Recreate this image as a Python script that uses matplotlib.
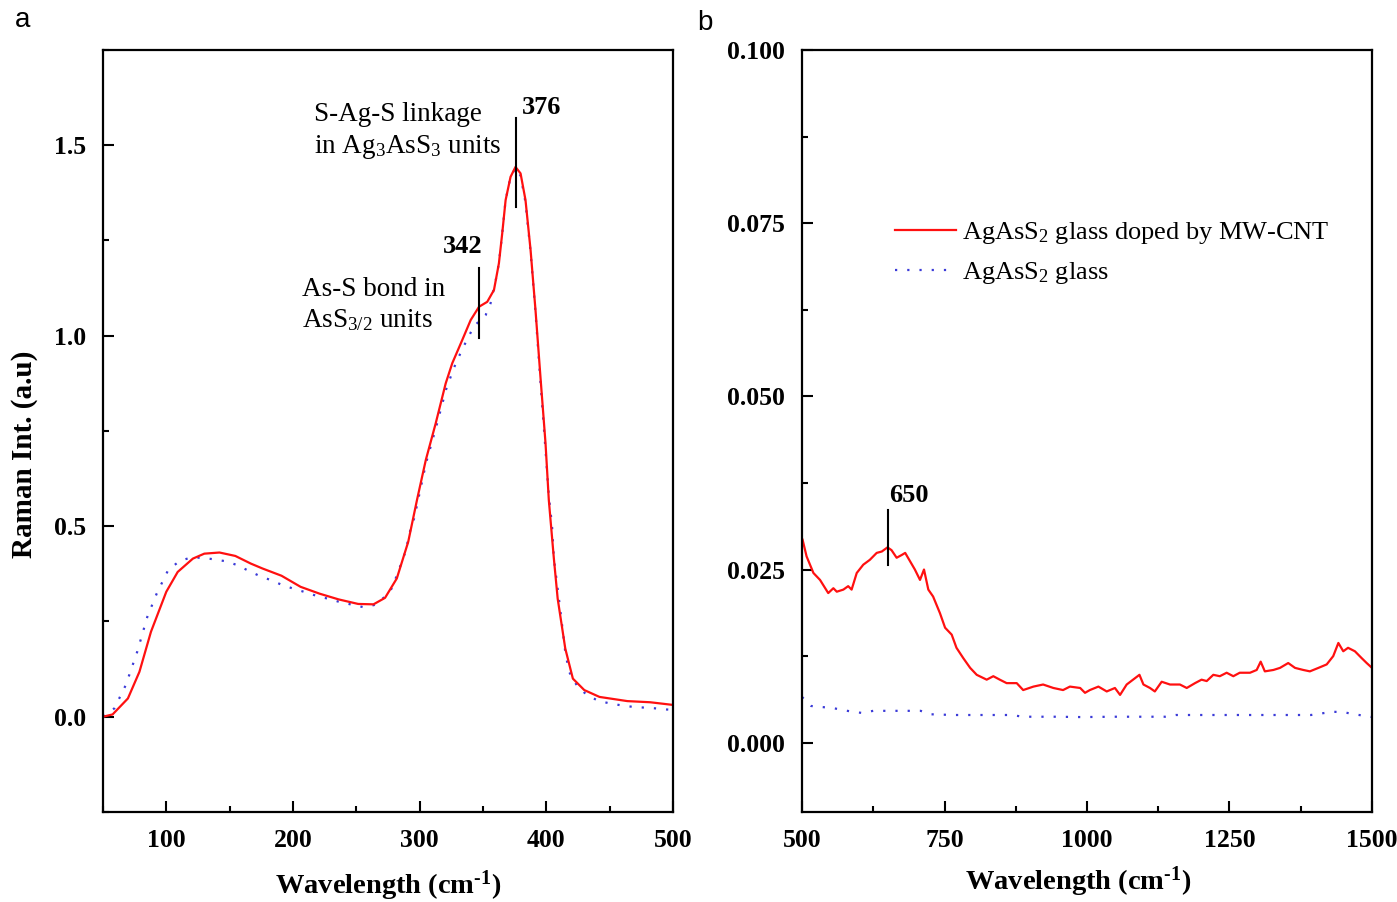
import matplotlib
matplotlib.use("Agg")
import matplotlib.pyplot as plt
from matplotlib.ticker import MultipleLocator, FormatStrFormatter

plt.rcParams["font.family"] = ["Liberation Serif", "DejaVu Serif"]
plt.rcParams["mathtext.fontset"] = "custom"
plt.rcParams["mathtext.rm"] = "Liberation Serif"
plt.rcParams["mathtext.it"] = "Liberation Serif:italic"
plt.rcParams["mathtext.bf"] = "Liberation Serif:bold"

# panel a: low wavenumber Raman spectra
a_doped_x = [50, 57.6, 69.7, 78.8, 87.9, 100, 109, 121, 130, 142, 154.5, 166.7,
             176, 191, 206, 221, 236, 251.5, 263.6, 272.7, 282, 291, 298, 304.9,
             312.7, 320.6, 325.8, 333.7, 340.3, 346.9, 353.4, 358.7, 362.6, 365.2,
             367.9, 371.8, 375.7, 379.7, 383.6, 387.6, 391.5, 395.4, 399.4, 402,
             406, 409, 415, 421, 430, 442, 464, 482, 500]
a_doped_y = [0.0, 0.006, 0.048, 0.118, 0.223, 0.328, 0.380, 0.415, 0.428, 0.431,
             0.422, 0.402, 0.389, 0.370, 0.341, 0.323, 0.308, 0.296, 0.295, 0.312,
             0.363, 0.459, 0.570, 0.674, 0.770, 0.875, 0.928, 0.989, 1.041, 1.076,
             1.089, 1.120, 1.190, 1.268, 1.356, 1.417, 1.443, 1.426, 1.356, 1.225,
             1.067, 0.892, 0.718, 0.569, 0.415, 0.310, 0.179, 0.100, 0.070, 0.052,
             0.041, 0.038, 0.031]

a_glass_x = [50.3, 59, 68, 77, 85, 92.4, 101.5, 110.6, 119.7, 128.8, 137.9, 147,
             156, 165, 174, 183, 192, 201.5, 210.6, 219.7, 228.8, 238, 247, 255,
             264, 272.7, 279, 282, 285.5, 288.8, 292.7, 295.8, 297.9, 305, 313,
             321, 327, 333.7, 342.9, 352.1, 356, 359.9, 362.6, 365.2, 367.9, 371.8,
             375.7, 379.7, 383.6, 387.6, 391.5, 395.4, 399.4, 402, 404.5, 406,
             410.6, 415, 418, 424, 432, 441, 450, 459, 468, 477, 486, 495, 500]
a_glass_y = [0.0, 0.022, 0.083, 0.170, 0.262, 0.323, 0.385, 0.409, 0.418, 0.417,
             0.413, 0.408, 0.398, 0.383, 0.369, 0.358, 0.345, 0.335, 0.326, 0.316,
             0.309, 0.300, 0.294, 0.288, 0.293, 0.315, 0.341, 0.372, 0.402, 0.433,
             0.490, 0.522, 0.555, 0.665, 0.760, 0.860, 0.915, 0.965, 1.025, 1.054,
             1.085, 1.142, 1.190, 1.268, 1.356, 1.417, 1.440, 1.420, 1.350, 1.220,
             1.060, 0.880, 0.700, 0.580, 0.503, 0.415, 0.293, 0.170, 0.118, 0.083,
             0.057, 0.042, 0.035, 0.030, 0.026, 0.024, 0.022, 0.019, 0.018]

# panel b: high wavenumber
b_doped_x = [501, 508, 520, 531.6, 546, 555, 561, 572.5, 581, 587, 596, 607.5,
             619, 631, 640, 650, 657, 666, 675, 681, 689.5, 698, 707, 714, 721.6,
             730, 742, 751, 762.6, 771, 783, 795, 806.5, 824, 835.6, 847, 859,
             876.7, 888, 906, 923, 941, 958, 970, 988, 996.5, 1005, 1020, 1034.6,
             1049, 1058, 1069.6, 1084, 1092, 1099, 1110.5, 1119, 1131, 1145.6,
             1163, 1175, 1189.5, 1201, 1210, 1221.6, 1233, 1245, 1256.7, 1268,
             1286, 1297.7, 1304.7, 1312, 1327, 1338.6, 1353, 1365, 1379.5, 1391,
             1406, 1420.5, 1432, 1441, 1449.6, 1458, 1470, 1482, 1490.7, 1500]
b_doped_y = [0.0293, 0.0269, 0.0245, 0.0235, 0.0216, 0.0223, 0.0218, 0.0221,
             0.0226, 0.0221, 0.0245, 0.0257, 0.0264, 0.0274, 0.0276, 0.0282,
             0.0278, 0.0267, 0.0271, 0.0274, 0.0262, 0.0250, 0.0235, 0.0250,
             0.0221, 0.0211, 0.0187, 0.0166, 0.0156, 0.0137, 0.0122, 0.0108,
             0.0098, 0.0091, 0.0096, 0.0091, 0.0086, 0.0086, 0.0076, 0.0081,
             0.0084, 0.0079, 0.0076, 0.0081, 0.0079, 0.0072, 0.0076, 0.0081,
             0.0074, 0.0079, 0.0069, 0.0084, 0.0093, 0.0098, 0.0084, 0.0079,
             0.0074, 0.0088, 0.0084, 0.0084, 0.0079, 0.0086, 0.0091, 0.0089,
             0.0098, 0.0096, 0.0101, 0.0096, 0.0101, 0.0101, 0.0105, 0.0117,
             0.0103, 0.0105, 0.0108, 0.0115, 0.0108, 0.0105, 0.0103, 0.0108,
             0.0113, 0.0125, 0.0144, 0.0132, 0.0137, 0.0132, 0.0122, 0.0115,
             0.0108]

b_glass_x = [500, 516, 554, 586, 605, 625, 660, 708, 727, 765, 868, 887, 945,
             990, 1050, 1137, 1156, 1250, 1393, 1431, 1450, 1470, 1500]
b_glass_y = [0.0066, 0.0053, 0.0050, 0.0045, 0.0043, 0.0046, 0.0046, 0.0046,
             0.0041, 0.0040, 0.0040, 0.00375, 0.00375, 0.0037, 0.00375, 0.00375,
             0.0040, 0.0040, 0.0040, 0.00447, 0.0044, 0.0041, 0.0037]

RED = "#ff1010"
BLUE = "#3a3ad8"
DOTS = (0, (1, 4.5))
TICK_FS = 18.5
XLABEL = r"Wavelength (cm$^{\text{-}\mathbf{1}}$)"

fig = plt.figure(figsize=(13.97, 9.02), dpi=100)
ax1 = fig.add_axes([0.0737, 0.0998, 0.408, 0.8448])
ax2 = fig.add_axes([0.5741, 0.0998, 0.408, 0.8448])

for ax in (ax1, ax2):
    for sp in ax.spines.values():
        sp.set_linewidth(1.6)
    ax.tick_params(which="both", direction="in", top=False, right=False, width=1.5)
    ax.tick_params(which="major", length=8, labelsize=TICK_FS, pad=12)
    ax.tick_params(which="minor", length=4.5)

# --- panel a
ax1.plot(a_glass_x, a_glass_y, color=BLUE, lw=1.6, linestyle=DOTS)
ax1.plot(a_doped_x, a_doped_y, color=RED, lw=1.6)
ax1.set_xlim(50, 500)
ax1.set_ylim(-0.25, 1.75)
ax1.xaxis.set_major_locator(MultipleLocator(100))
ax1.xaxis.set_minor_locator(MultipleLocator(50))
ax1.yaxis.set_major_locator(MultipleLocator(0.5))
ax1.yaxis.set_minor_locator(MultipleLocator(0.25))
ax1.yaxis.set_major_formatter(FormatStrFormatter("%.1f"))
ax1.set_xlabel(XLABEL, fontsize=20.5, fontweight="bold", labelpad=12)
ax1.set_ylabel("Raman Int. (a.u)", fontsize=21, fontweight="bold")
ax1.yaxis.set_label_coords(-0.114, 0.47)

ax1.plot([376, 376], [1.338, 1.571], color="black", lw=1.5)
ax1.plot([347, 347], [0.994, 1.178], color="black", lw=1.5)
ax1.text(380.5, 1.60, "376", fontsize=19, fontweight="bold", va="center")
ax1.text(318, 1.235, "342", fontsize=19, fontweight="bold", va="center")
ax1.text(217, 1.613, "S-Ag-S linkage\nin Ag$_3$AsS$_3$ units", fontsize=19.5,
         va="top", linespacing=1.3)
ax1.text(207.5, 1.155, "As-S bond in\nAsS$_{3/2}$ units", fontsize=19.5,
         va="top", linespacing=1.3)

# --- panel b
ax2.plot(b_glass_x, b_glass_y, color=BLUE, lw=1.6, linestyle=DOTS,
         label="AgAsS$_2$ glass")
ax2.plot(b_doped_x, b_doped_y, color=RED, lw=1.6,
         label="AgAsS$_2$ glass doped by MW-CNT")
ax2.set_xlim(500, 1500)
ax2.set_ylim(-0.01, 0.1)
ax2.xaxis.set_major_locator(MultipleLocator(250))
ax2.xaxis.set_minor_locator(MultipleLocator(125))
ax2.yaxis.set_major_locator(MultipleLocator(0.025))
ax2.yaxis.set_minor_locator(MultipleLocator(0.0125))
ax2.yaxis.set_major_formatter(FormatStrFormatter("%.3f"))
ax2.set_xlabel(XLABEL, fontsize=20.5, fontweight="bold", labelpad=9)
ax2.xaxis.label.set_x(0.484)

ax2.plot([650, 650], [0.0257, 0.0336], color="black", lw=1.5)
ax2.text(653, 0.0357, "650", fontsize=19, fontweight="bold", va="center")

handles, labels = ax2.get_legend_handles_labels()
ax2.legend(handles[::-1], labels[::-1], loc="upper left", bbox_to_anchor=(0.163, 0.777),
           frameon=False, fontsize=19, handlelength=2.3, handletextpad=0.25,
           labelspacing=0.55, borderaxespad=0, borderpad=0)

for ax in (ax1, ax2):
    for lab in ax.get_xticklabels() + ax.get_yticklabels():
        lab.set_fontweight("bold")

fig.text(0.011, 0.97, "a", fontsize=20, family="Liberation Sans")
fig.text(0.499, 0.967, "b", fontsize=20, family="Liberation Sans")

fig.savefig("out.png", dpi=100)
